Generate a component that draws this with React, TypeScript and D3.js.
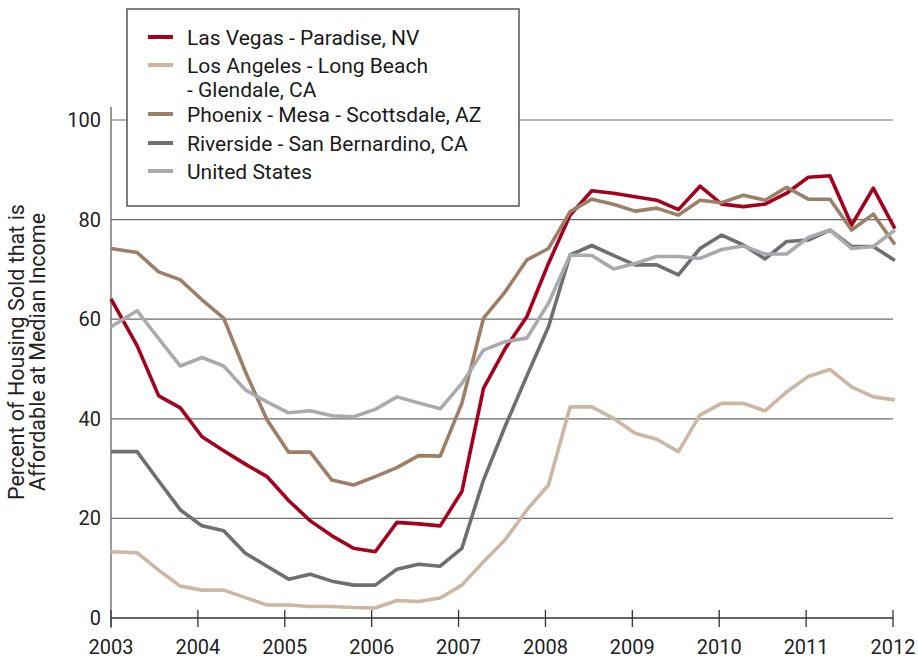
import React, { useEffect, useRef } from "react";
import * as d3 from "d3";

// x positions (fractional years) of the plotted quarters
const dates = [2003, ...d3.range(36).map((k) => 2003.3 + k * 0.2492)];

const lasVegas = [
  64.1, 54.7, 44.6, 42.2, 36.4, 33.6, 30.9, 28.4, 23.6, 19.5, 16.5, 14.0, 13.3,
  19.2, 18.9, 18.5, 25.4, 46.1, 54.1, 60.5, 71.2, 80.9, 85.8, 85.3, 84.6, 83.9,
  82.0, 86.7, 83.1, 82.6, 83.1, 85.3, 88.5, 88.8, 78.9, 86.3, 78.2,
];
const losAngeles = [
  13.3, 13.1, 9.6, 6.4, 5.6, 5.6, 4.1, 2.6, 2.6, 2.3, 2.3, 2.1, 2.0, 3.5, 3.3,
  4.0, 6.6, 11.3, 15.7, 21.7, 26.7, 42.4, 42.4, 40.1, 37.1, 35.9, 33.4, 40.8,
  43.1, 43.1, 41.6, 45.4, 48.5, 49.9, 46.4, 44.4, 43.8,
];
const phoenix = [
  74.2, 73.4, 69.5, 67.9, 63.9, 60.2, 49.5, 39.8, 33.3, 33.3, 27.7, 26.7, 28.4,
  30.2, 32.6, 32.5, 43.1, 60.2, 65.5, 71.9, 74.2, 81.6, 84.1, 83.1, 81.7, 82.3,
  80.9, 83.9, 83.4, 84.9, 83.9, 86.5, 84.1, 84.1, 77.9, 81.1, 75.0,
];
const riverside = [
  33.4, 33.4, 27.5, 21.7, 18.5, 17.5, 13.0, 10.4, 7.8, 8.8, 7.4, 6.6, 6.6, 9.8,
  10.8, 10.4, 14.0, 27.7, 38.5, 48.6, 58.5, 72.9, 74.8, 72.8, 70.9, 70.9, 68.9,
  74.2, 76.9, 74.9, 72.1, 75.6, 75.9, 77.9, 74.6, 74.6, 71.8,
];
const unitedStates = [
  58.5, 61.7, 56.1, 50.6, 52.3, 50.6, 45.8, 43.4, 41.2, 41.6, 40.6, 40.4, 41.9,
  44.4, 43.2, 42.0, 47.1, 53.8, 55.5, 56.2, 63.2, 72.9, 72.8, 70.1, 71.2, 72.6,
  72.6, 72.2, 74.0, 74.7, 73.1, 73.1, 76.4, 77.9, 74.2, 74.6, 77.9,
];

const seriesNames = [
  ["Las Vegas - Paradise, NV"],
  ["Los Angeles - Long Beach", "- Glendale, CA"],
  ["Phoenix - Mesa - Scottsdale, AZ"],
  ["Riverside - San Bernardino, CA"],
  ["United States"],
];
const seriesValues = [lasVegas, losAngeles, phoenix, riverside, unitedStates];
const colors = ["#a6001f", "#ccb7a3", "#9c7f67", "#6e6f71", "#a9aaad"];

const yearTicks = d3.range(2003, 2013);
const valueTicks = [0, 20, 40, 60, 80, 100];

const FONT = "'Roboto', 'DejaVu Sans', sans-serif";

const App = () => {
  const svgRef = useRef(null);

  useEffect(() => {
    const width = 918;
    const height = 661;
    const svg = d3.select(svgRef.current);
    svg.selectAll("*").remove();
    svg.attr("width", width).attr("height", height);

    const x = d3.scaleLinear().domain([2003, 2012]).range([111, 893]);
    const y = d3.scaleLinear().domain([0, 100]).range([618, 120]);

    // gridlines
    svg
      .append("g")
      .selectAll("line")
      .data(valueTicks.filter((v) => v > 0))
      .enter()
      .append("line")
      .attr("x1", x(2003))
      .attr("x2", x(2012))
      .attr("y1", (d) => y(d))
      .attr("y2", (d) => y(d))
      .attr("stroke", "#6b6b6b")
      .attr("stroke-width", 1.2);

    // y axis line
    svg
      .append("line")
      .attr("x1", x(2003))
      .attr("x2", x(2003))
      .attr("y1", y(100) - 13)
      .attr("y2", y(0) + 10)
      .attr("stroke", "#777")
      .attr("stroke-width", 1.5);

    // x axis with crossing ticks
    const xAxis = svg.append("g").attr("transform", `translate(0,${y(0)})`);
    xAxis
      .append("line")
      .attr("x1", x(2003))
      .attr("x2", x(2012))
      .attr("stroke", "#333")
      .attr("stroke-width", 1.3);
    xAxis
      .selectAll(".tick")
      .data(yearTicks)
      .enter()
      .append("line")
      .attr("x1", (d) => x(d))
      .attr("x2", (d) => x(d))
      .attr("y1", -8)
      .attr("y2", 9)
      .attr("stroke", "#333")
      .attr("stroke-width", 1.3);
    xAxis
      .selectAll(".lbl")
      .data(yearTicks)
      .enter()
      .append("text")
      .attr("x", (d) => x(d))
      .attr("y", 36)
      .attr("text-anchor", "middle")
      .attr("font-family", FONT)
      .attr("font-size", 20)
      .attr("fill", "#222")
      .text((d) => d);

    // y tick labels
    svg
      .append("g")
      .selectAll("text")
      .data(valueTicks)
      .enter()
      .append("text")
      .attr("x", 101)
      .attr("y", (d) => y(d) + 7)
      .attr("text-anchor", "end")
      .attr("font-family", FONT)
      .attr("font-size", 20)
      .attr("fill", "#222")
      .text((d) => d);

    // y axis title
    const title = svg
      .append("text")
      .attr("transform", "translate(0,352) rotate(-90)")
      .attr("text-anchor", "middle")
      .attr("font-family", FONT)
      .attr("font-size", 21.5)
      .attr("fill", "#222");
    title.append("tspan").attr("x", 0).attr("y", 24).text("Percent of Housing Sold that is");
    title.append("tspan").attr("x", 0).attr("y", 45).text("Affordable at Median Income");

    // lines
    const line = d3
      .line()
      .x((d, i) => x(dates[i]))
      .y((d) => y(d));
    svg
      .append("g")
      .selectAll("path")
      .data(seriesValues)
      .enter()
      .append("path")
      .attr("d", (d) => line(d))
      .attr("fill", "none")
      .attr("stroke", (d, i) => colors[i])
      .attr("stroke-width", 3.6)
      .attr("stroke-linejoin", "round");

    // legend
    const legend = svg.append("g");
    legend
      .append("rect")
      .attr("x", 127)
      .attr("y", 9)
      .attr("width", 392)
      .attr("height", 197)
      .attr("fill", "#fff")
      .attr("stroke", "#555")
      .attr("stroke-width", 1.5);
    const rowY = [37, 65, 114, 143, 171];
    seriesNames.forEach((lines, i) => {
      legend
        .append("line")
        .attr("x1", 148)
        .attr("x2", 173)
        .attr("y1", rowY[i])
        .attr("y2", rowY[i])
        .attr("stroke", colors[i])
        .attr("stroke-width", 4);
      lines.forEach((t, j) => {
        legend
          .append("text")
          .attr("x", 187)
          .attr("y", rowY[i] + 8 + j * 24)
          .attr("font-family", FONT)
          .attr("font-size", 21)
          .attr("fill", "#1a1a1a")
          .text(t);
      });
    });
  }, []);

  return (
    <svg
      ref={svgRef}
      style={{ position: "absolute", left: 0, top: 0, background: "#fff" }}
    ></svg>
  );
};

export default App;
